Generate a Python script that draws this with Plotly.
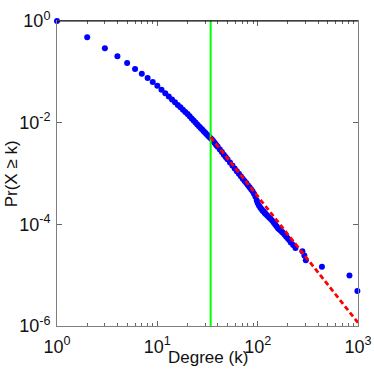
import plotly.graph_objects as go

degree = [1, 2, 3, 4, 5, 6, 7, 8, 9, 10, 11, 12, 13, 14, 15, 16, 17, 18, 19, 20,
          21, 22, 23, 24, 25, 26, 27, 28, 29, 30, 31, 32, 33, 34, 35, 36, 37, 38, 39, 40,
          42, 44, 46, 48, 50, 53, 56, 59, 62, 65, 68, 71, 74, 77, 80, 83, 86, 89, 92, 95,
          98, 100, 103, 106, 109, 112, 115, 118, 121, 125, 130, 135, 140, 145, 150, 155,
          160, 165, 170, 175, 180, 186, 192, 199, 206, 214, 226, 238, 279, 292, 302,
          437, 822, 986]
ccdf = [1.0, 0.478, 0.290, 0.202, 0.149, 0.1135, 0.0918, 0.0755, 0.0631, 0.0533,
        0.0445, 0.0380, 0.0327, 0.0286, 0.0252, 0.0223, 0.0200, 0.0180, 0.0163, 0.0148,
        0.01336, 0.01213, 0.01102, 0.01009, 0.00925, 0.00851, 0.00789, 0.00730, 0.00679,
        0.00631, 0.00592, 0.00555, 0.00520, 0.00492, 0.00466, 0.00437, 0.00408, 0.00380,
        0.00357, 0.00337, 0.00296, 0.00264, 0.00235, 0.00212, 0.00191, 0.00165, 0.00144,
        0.00126, 0.00111, 9.87e-4, 8.79e-4, 7.92e-4, 7.14e-4, 6.47e-4, 5.86e-4, 5.35e-4,
        4.91e-4, 4.50e-4, 3.98e-4, 3.47e-4, 2.95e-4, 2.63e-4, 2.34e-4, 2.14e-4, 2.00e-4,
        1.86e-4, 1.78e-4, 1.66e-4, 1.58e-4, 1.48e-4, 1.37e-4, 1.27e-4, 1.17e-4, 1.07e-4,
        9.82e-5, 9.03e-5, 8.32e-5, 7.89e-5, 7.48e-5, 7.10e-5, 6.76e-5, 6.22e-5, 5.79e-5,
        5.31e-5, 4.90e-5, 4.41e-5, 3.92e-5, 3.43e-5, 2.94e-5, 2.45e-5, 1.96e-5,
        1.47e-5, 9.8e-6, 4.9e-6]

# kmin and the fitted power-law tail
kmin = 34
fit_k = [34, 1000]
fit_p = [5.2e-3, 1.16e-6]

x_ticks = [1, 10, 100, 1000]
x_labels = ["10<sup>0</sup>", "10<sup>1</sup>", "10<sup>2</sup>", "10<sup>3</sup>"]
y_ticks = [1e-6, 1e-4, 1e-2, 1]
y_labels = ["10<sup>-6</sup>", "10<sup>-4</sup>", "10<sup>-2</sup>", "10<sup>0</sup>"]

font = "Liberation Sans, Arial, sans-serif"

fig = go.Figure()
fig.add_trace(go.Scatter(x=degree, y=ccdf, mode="markers", cliponaxis=False,
                         marker=dict(color="#0000ff", size=6)))
fig.add_trace(go.Scatter(x=[kmin, kmin], y=[1e-6, 1], mode="lines",
                         line=dict(color="#00ff00", width=2)))
fig.add_trace(go.Scatter(x=fit_k, y=fit_p, mode="lines",
                         line=dict(color="#ff0000", width=2.8, dash="5px,3px")))

minor_x = [m * d for d in [1, 10, 100] for m in range(2, 10)]

fig.update_xaxes(type="log", range=[0, 3], tickvals=x_ticks, ticktext=x_labels,
                 ticks="inside", ticklen=5, tickcolor="#666", showline=True,
                 linecolor="#7f7f7f", mirror="ticks", showgrid=False, zeroline=False,
                 automargin=False, ticklabelstandoff=4, ticklabeloverflow="allow",
                 minor=dict(ticks="inside", ticklen=3, tickcolor="#666", tickvals=minor_x,
                            showgrid=False),
                 tickfont=dict(family=font, size=18, color="#111"))
fig.update_yaxes(type="log", range=[-6, 0], tickvals=y_ticks, ticktext=y_labels,
                 ticks="inside", ticklen=5, tickcolor="#666", showline=True,
                 linecolor="#7f7f7f", mirror="ticks", showgrid=False, zeroline=False,
                 automargin=False, ticklabelstandoff=2, ticklabeloverflow="allow",
                 tickfont=dict(family=font, size=18, color="#111"))

fig.add_shape(type="line", xref="paper", yref="paper", x0=0, x1=1, y0=1, y1=1,
              line=dict(color="#000", width=1))

fig.add_annotation(text="Degree (k)", xref="paper", yref="paper", x=0.5, y=-0.102,
                   showarrow=False, yanchor="middle",
                   font=dict(family=font, size=17, color="#111"))
fig.add_annotation(text="Pr(X \u2265 k)", xref="paper", yref="paper", x=-0.15, y=0.5,
                   textangle=-90, showarrow=False, xanchor="center", yanchor="middle",
                   font=dict(family=font, size=17, color="#111"))

fig.update_layout(width=374, height=371, margin=dict(l=57, r=16, t=21, b=45),
                  plot_bgcolor="white", paper_bgcolor="white", showlegend=False)

# drop the default 8px body margin so the figure fills the window
fig.write_html("out.html", config={"displayModeBar": False},
               post_script="document.body.style.margin='0';")
